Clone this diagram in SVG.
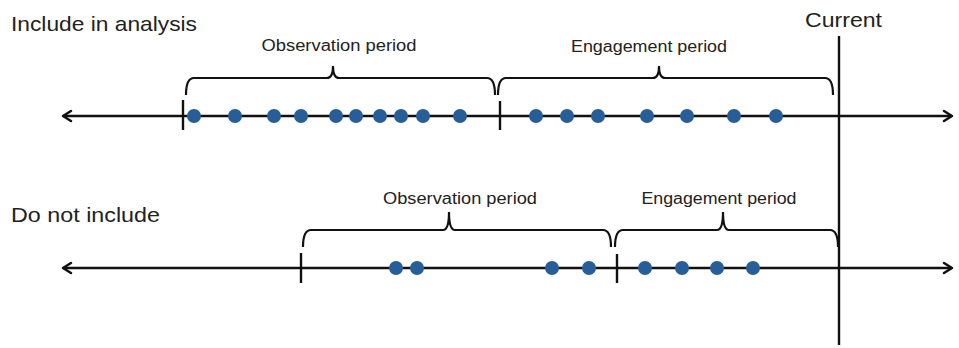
<svg xmlns="http://www.w3.org/2000/svg" width="959" height="348" viewBox="0 0 959 348">
<style>
.ln{stroke:#111;stroke-width:2.5;fill:none}
.br{stroke:#111;stroke-width:2.2;fill:none}
.tk{stroke:#111;stroke-width:2.4}
.ah{stroke:#111;stroke-width:2.5;fill:none;stroke-linecap:round;stroke-linejoin:round}
.dot{fill:#275d98}
.lbl{font-family:"Liberation Sans",Arial,sans-serif;fill:#222}
.big{font-size:21px}
.sm{font-size:16px}
</style>
<rect width="959" height="348" fill="#fff"/>
<g id="labels">
<text class="lbl big" x="11" y="31" textLength="186" lengthAdjust="spacingAndGlyphs">Include in analysis</text>
<text class="lbl big" x="11" y="222" textLength="149" lengthAdjust="spacingAndGlyphs">Do not include</text>
<text class="lbl big" x="805" y="27" textLength="77" lengthAdjust="spacingAndGlyphs">Current</text>
</g>
<g id="connectors">
<line class="ln" x1="63" y1="116" x2="951" y2="116"/>
<polyline class="ah" points="71,111 63,116 71,121"/>
<polyline class="ah" points="944,111 952,116 944,121"/>
<line class="ln" x1="63" y1="268" x2="951" y2="268"/>
<polyline class="ah" points="71,263 63,268 71,273"/>
<polyline class="ah" points="944,263 952,268 944,273"/>
<line class="tk" x1="839" y1="36" x2="839" y2="345"/>
</g>
<g id="top-row">
<line class="tk" x1="183" y1="100" x2="183" y2="130"/>
<line class="tk" x1="500" y1="101" x2="500" y2="130"/>
<g id="top-observation">
<path class="br" d="M186,95 Q186,78 194,78 L327,78 Q333,78 333,66 Q333,78 339,78 L487,78 Q495,78 495,95"/>
<text class="lbl sm" x="339" y="51" text-anchor="middle" textLength="155" lengthAdjust="spacingAndGlyphs">Observation period</text>
</g>
<g id="top-engagement">
<path class="br" d="M498,95 Q498,78 506,78 L653,78 Q659,78 659,66 Q659,78 665,78 L825,78 Q833,78 833,95"/>
<text class="lbl sm" x="649" y="52" text-anchor="middle" textLength="156" lengthAdjust="spacingAndGlyphs">Engagement period</text>
</g>
<g id="top-dots">
<circle class="dot" cx="194" cy="116" r="7"/>
<circle class="dot" cx="235" cy="116" r="7"/>
<circle class="dot" cx="274" cy="116" r="7"/>
<circle class="dot" cx="301" cy="116" r="7"/>
<circle class="dot" cx="336" cy="116" r="7"/>
<circle class="dot" cx="356" cy="116" r="7"/>
<circle class="dot" cx="380" cy="116" r="7"/>
<circle class="dot" cx="401" cy="116" r="7"/>
<circle class="dot" cx="423" cy="116" r="7"/>
<circle class="dot" cx="460" cy="116" r="7"/>
<circle class="dot" cx="536" cy="116" r="7"/>
<circle class="dot" cx="567" cy="116" r="7"/>
<circle class="dot" cx="598" cy="116" r="7"/>
<circle class="dot" cx="647" cy="116" r="7"/>
<circle class="dot" cx="687" cy="116" r="7"/>
<circle class="dot" cx="734" cy="116" r="7"/>
<circle class="dot" cx="776" cy="116" r="7"/>
</g>
</g>
<g id="bottom-row">
<line class="tk" x1="301" y1="253" x2="301" y2="283"/>
<line class="tk" x1="617" y1="254" x2="617" y2="283"/>
<g id="bottom-observation">
<path class="br" d="M303,247 Q303,230 311,230 L443,230 Q449,230 449,212 Q449,230 455,230 L603,230 Q611,230 611,247"/>
<text class="lbl sm" x="460" y="204" text-anchor="middle" textLength="154" lengthAdjust="spacingAndGlyphs">Observation period</text>
</g>
<g id="bottom-engagement">
<path class="br" d="M615,247 Q615,230 623,230 L717,230 Q723,230 723,212 Q723,230 729,230 L830,230 Q838,230 838,247"/>
<text class="lbl sm" x="719" y="204" text-anchor="middle" textLength="155" lengthAdjust="spacingAndGlyphs">Engagement period</text>
</g>
<g id="bottom-dots">
<circle class="dot" cx="396" cy="268" r="7"/>
<circle class="dot" cx="417" cy="268" r="7"/>
<circle class="dot" cx="552" cy="268" r="7"/>
<circle class="dot" cx="589" cy="268" r="7"/>
<circle class="dot" cx="645" cy="268" r="7"/>
<circle class="dot" cx="682" cy="268" r="7"/>
<circle class="dot" cx="717" cy="268" r="7"/>
<circle class="dot" cx="753" cy="268" r="7"/>
</g>
</g>
</svg>
